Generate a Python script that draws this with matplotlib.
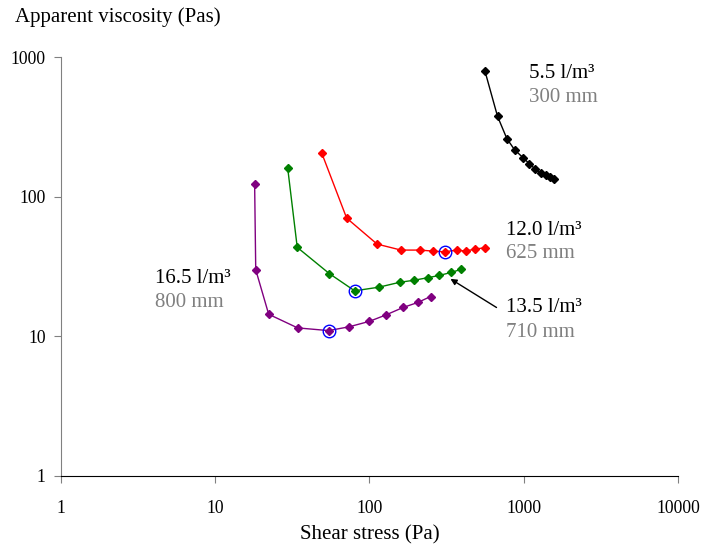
import matplotlib
matplotlib.use("Agg")
from matplotlib import pyplot as plt
from matplotlib.ticker import FixedLocator, NullLocator

plt.rcParams['font.family'] = ['Liberation Serif', 'DejaVu Serif']

# shear stress (Pa) / apparent viscosity (Pas) per mix
x_55 = [560, 676, 777, 872, 987, 1084, 1185, 1291, 1390, 1483, 1574]
y_55 = [797, 377, 261, 217, 191, 173, 158, 147, 142, 139, 134]

x_120 = [48.9, 71.1, 112, 160, 211, 259, 307, 367, 420, 482, 560]
y_120 = [207, 70.3, 45.8, 41.5, 41.5, 40.8, 40.3, 41.5, 40.8, 42.2, 43.1]

x_135 = [29.5, 34.0, 54.8, 80.1, 115, 157, 193, 238, 283, 338, 393]
y_135 = [160, 43.4, 28.2, 21.2, 22.5, 24.4, 25.2, 26.3, 27.3, 28.7, 30.2]

x_165 = [18.0, 18.3, 22.2, 34.2, 54.3, 73.5, 99.6, 127, 165, 206, 249]
y_165 = [123, 30.0, 14.4, 11.5, 11.0, 11.7, 12.8, 14.2, 16.1, 17.5, 19.3]

# circled points (yield point)
x_circ = [307, 80.1, 54.3]
y_circ = [40.3, 21.2, 11.0]

series = [
    (x_55, y_55, 'black'),
    (x_120, y_120, 'red'),
    (x_135, y_135, 'green'),
    (x_165, y_165, 'purple'),
]

labels = [
    ('5.5 l/m³', '300 mm', 1079, 767, 516),
    ('12.0 l/m³', '625 mm', 773, 57.7, 39.5),
    ('13.5 l/m³', '710 mm', 773, 16.2, 10.6),
    ('16.5 l/m³', '800 mm', 4.07, 26.1, 17.6),
]

fig = plt.figure(figsize=(7.03, 5.44), dpi=100)
ax = fig.add_axes([0.0868, 0.125, 0.8776, 0.770])

for xs, ys, c in series:
    ax.plot(xs, ys, color=c, lw=1.0, marker='D', ms=3.8, mec=c, mfc=c)

ax.plot(x_circ, y_circ, ls='none', marker='o', ms=9, mfc='none', mec='#0000FF', mew=1.0)

for top, bottom, tx, ty1, ty2 in labels:
    ax.text(tx, ty1, top, fontsize=15, color='black', va='center', ha='left')
    ax.text(tx, ty2, bottom, fontsize=15, color='#808080', va='center', ha='left')

ax.annotate('', xy=(335, 25.8), xytext=(666, 16.1),
            arrowprops=dict(arrowstyle='-|>', color='black', lw=1.0,
                            mutation_scale=9, shrinkA=0, shrinkB=0))

ax.set_xscale('log')
ax.set_yscale('log')
ax.set_xlim(1, 10000)
ax.set_ylim(1, 1000)
ax.xaxis.set_major_locator(FixedLocator([1, 10, 100, 1000, 10000]))
ax.yaxis.set_major_locator(FixedLocator([1, 10, 100, 1000]))
ax.xaxis.set_minor_locator(NullLocator())
ax.yaxis.set_minor_locator(NullLocator())
ax.set_xticklabels(['1', '10', '100', '1000', '10000'])
ax.set_yticklabels(['1', '10', '100', '1000'])

for s in ['top', 'right']:
    ax.spines[s].set_visible(False)
ax.spines['left'].set_color('#808080')
ax.spines['bottom'].set_color('black')
ax.tick_params(axis='both', which='major', direction='out', length=5,
               color='#808080', labelsize=12.7)
ax.tick_params(axis='x', pad=12.5)
ax.tick_params(axis='y', pad=6)

ax.set_xlabel('Shear stress (Pa)', fontsize=15, labelpad=6)
fig.text(15 / 703, 1 - 17 / 544, 'Apparent viscosity (Pas)', fontsize=15,
         ha='left', va='center')

fig.savefig('out.png', dpi=100)
